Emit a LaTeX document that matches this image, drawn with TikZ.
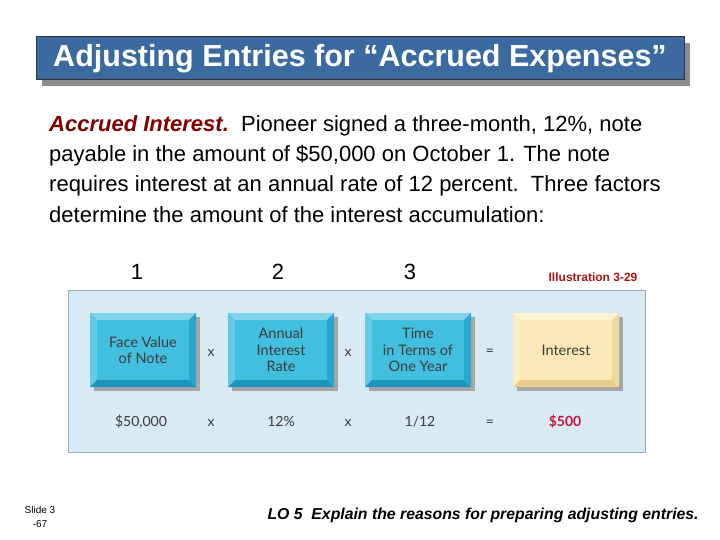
\documentclass[tikz,border=0pt]{standalone}
\usepackage{fontspec}
\setmainfont{Liberation Sans}
\newfontfamily\boxfont{Lato}
\usetikzlibrary{positioning, shadows}

\definecolor{titleblue}{RGB}{58,106,160}
\definecolor{darkred}{RGB}{128,0,0}
\definecolor{illred}{RGB}{170,20,20}
\definecolor{panelblue}{RGB}{216,234,244}
\definecolor{panelline}{RGB}{150,172,188}
\definecolor{cyanface}{RGB}{66,190,222}
\definecolor{cyantop}{RGB}{128,212,236}
\definecolor{cyanleft}{RGB}{98,202,232}
\definecolor{cyanbottom}{RGB}{28,148,188}
\definecolor{cyanright}{RGB}{40,166,204}
\definecolor{creamface}{RGB}{250,233,182}
\definecolor{creamtop}{RGB}{253,244,214}
\definecolor{creamleft}{RGB}{252,238,196}
\definecolor{creambottom}{RGB}{232,204,140}
\definecolor{creamright}{RGB}{240,216,158}
\definecolor{boxtext}{RGB}{60,60,60}
\definecolor{fivehundred}{RGB}{200,20,60}

\tikzset{
  bevel/.style n args={5}{fill=#1, minimum width=106pt, minimum height=74pt,
    inner sep=0pt, align=center, text=boxtext,
    font=\boxfont\fontsize{14.5}{16.5}\selectfont,
    drop shadow={shadow xshift=4pt, shadow yshift=-4pt, fill=black!35, opacity=1},
    path picture={
      \coordinate (nw) at (path picture bounding box.north west);
      \coordinate (ne) at (path picture bounding box.north east);
      \coordinate (sw) at (path picture bounding box.south west);
      \coordinate (se) at (path picture bounding box.south east);
      \fill[#2] (nw) -- (ne) -- ([shift={(-7pt,-7pt)}]ne) -- ([shift={(7pt,-7pt)}]nw) -- cycle;
      \fill[#3] (nw) -- ([shift={(7pt,-7pt)}]nw) -- ([shift={(7pt,7pt)}]sw) -- (sw) -- cycle;
      \fill[#4] (sw) -- (se) -- ([shift={(-7pt,7pt)}]se) -- ([shift={(7pt,7pt)}]sw) -- cycle;
      \fill[#5] (ne) -- (se) -- ([shift={(-7pt,7pt)}]se) -- ([shift={(-7pt,-7pt)}]ne) -- cycle;
    }},
  bluebox/.style={bevel={cyanface}{cyantop}{cyanleft}{cyanbottom}{cyanright}},
  creambox/.style={bevel={creamface}{creamtop}{creamleft}{creambottom}{creamright}},
  op/.style={text=boxtext, font=\boxfont\fontsize{14}{16}\selectfont,
    text height=1.5ex, text depth=.25ex},
  factor/.style={font=\fontsize{22}{24}\selectfont}
}

\begin{document}
\begin{tikzpicture}[x=1pt, y=-1pt]
  \useasboundingbox (0,0) rectangle (720,540);

  % title bar
  \node[draw=black!80, line width=1pt, fill=titleblue, minimum width=648pt, minimum height=43pt,
    drop shadow={shadow xshift=6pt, shadow yshift=-6pt, fill=black!45, opacity=1},
    text=white, font=\bfseries\fontsize{30.5}{32}\selectfont] (title) at (360,58.5)
    {Adjusting Entries for “Accrued Expenses”};

  % text of the slide
  \node[anchor=north west, align=left, inner sep=0pt, font=\fontsize{22}{30.4}\selectfont] (intro) at (49,115)
    {{\color{darkred}\bfseries\itshape Accrued Interest.}\ \ Pioneer signed a three-month, 12\%, note\\
     payable in the amount of \$50,000 on October 1. The note\\
     requires interest at an annual rate of 12 percent.\ \ Three factors\\
     determine the amount of the interest accumulation:};

  \node[factor] (n1) at (137,272) {1};
  \node[factor] (n2) at (278,272) {2};
  \node[factor] (n3) at (410,272) {3};
  \node[text=illred, font=\bfseries\fontsize{12}{13}\selectfont] (ill) at (593,277) {Illustration 3-29};

  % illustration panel
  \node[draw=panelline, fill=panelblue, minimum width=577pt, minimum height=162pt, inner sep=0pt] (panel) at (356.5,371) {};

  \node[bluebox] (face) at (143,350) {Face Value\\of Note};
  \node[bluebox] (rate) at (281,350) {Annual\\Interest\\Rate};
  \node[bluebox] (time) at (418,350) {Time\\in Terms of\\One Year};
  \node[creambox] (interest) at (566,350) {Interest};

  \node[op] (x1) at (211,353) {x};
  \node[op] (x2) at (348,353) {x};
  \node[op] (eq) at (490,352) {=};

  \node[op] (v1) at (141,423) {\$50,000};
  \node[op] (x3) at (211,423) {x};
  \node[op] (v2) at (281,423) {12\%};
  \node[op] (x4) at (348,423) {x};
  \node[op] (v3) at (420,423) {1/12};
  \node[op] (eq2) at (490,423) {=};
  \node[op, text=fivehundred, font=\boxfont\bfseries\fontsize{14}{16}\selectfont] (v4) at (565,423) {\$500};

  % footer
  \node[align=center, font=\fontsize{10}{14}\selectfont] (slide) at (40,517) {Slide 3\\-67};
  \node[anchor=west, font=\bfseries\itshape\fontsize{15.8}{18}\selectfont] (lo) at (264,515)
    {LO 5\ \ Explain the reasons for preparing adjusting entries.};
\end{tikzpicture}
\end{document}
